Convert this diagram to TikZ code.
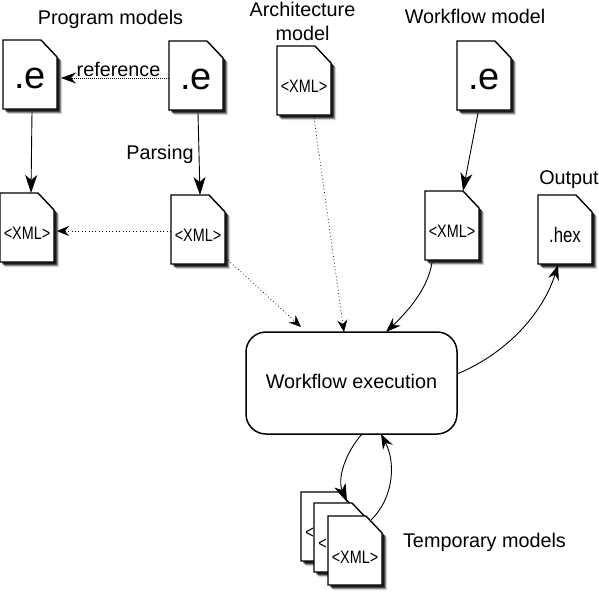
\documentclass[tikz,border=0pt]{standalone}
\usepackage{fontspec}
\setmainfont{Liberation Sans}
\newfontfamily\narrowfont[FakeStretch=0.8]{Liberation Sans}
\usetikzlibrary{arrows.meta}
\tikzset{
  lab/.style={font=\fontsize{19.8}{21}\selectfont,inner sep=0pt},
  bigE/.style={font=\fontsize{38}{38}\selectfont},
  xmlt/.style={font=\narrowfont\fontsize{18}{19}\selectfont},
  hext/.style={font=\narrowfont\fontsize{21}{22}\selectfont},
  filebody/.style={draw=black,line width=1.4pt,fill=white,line join=miter},
  big/.style={-{Stealth[length=18pt,width=12pt,inset=5pt]},line width=.9pt},
  mid/.style={-{Stealth[length=15pt,width=11pt,inset=5pt]},line width=.9pt},
  dots/.style={-{Stealth[length=12pt,width=10pt,inset=4pt]},line width=.7pt,dash pattern=on .8pt off 2.6pt},
  dense/.style={-{Stealth[length=15pt,width=11pt,inset=5pt]},line width=.8pt,dash pattern=on 1pt off 1pt},
}
% name, left, top, text style, text, text dx, text dy
\newcommand{\filedoc}[7]{%
  \foreach \o/\a in {5/.15,4.2/.25,3.4/.45,2.4/.7}{
    \fill[black,opacity=\a] (#2+\o,#3+\o) -- (#2+38+\o,#3+\o) -- (#2+54+\o,#3+17+\o) -- (#2+54+\o,#3+69+\o) -- (#2+\o,#3+69+\o) -- cycle;
  }
  \draw[filebody] (#2,#3) -- (#2+38,#3) -- (#2+54,#3+17) -- (#2+54,#3+69) -- (#2,#3+69) -- cycle;
  \node[minimum width=54pt,minimum height=69pt,inner sep=0pt,outer sep=0pt] (#1) at (#2+27,#3+34.5) {};
  \node[inner sep=0pt,#4] (#1t) at (#2+27+#6,#3+34.5+#7) {#5};
}
\begin{document}
\begin{tikzpicture}[x=1pt,y=-1pt]
\useasboundingbox (0,0) rectangle (599,592);
\filedoc{ea}{3}{40}{bigE}{.e}{0}{3.5}
\filedoc{eb}{169}{41}{bigE}{.e}{0}{3.5}
\filedoc{arch}{277}{46}{xmlt}{<XML>}{0}{5.5}
\filedoc{wf}{457}{41}{bigE}{.e}{0}{3.5}
\filedoc{xa}{0}{193}{xmlt}{<XML>}{0}{6}
\filedoc{xb}{171}{195}{xmlt}{<XML>}{0}{6}
\filedoc{xw}{425}{191}{xmlt}{<XML>}{0}{6}
\filedoc{hex}{538}{195}{hext}{.hex}{0}{5}
\filedoc{t1}{301}{492}{xmlt}{<}{-18.5}{6.5}
\filedoc{t2}{314}{503}{xmlt}{<}{-18.5}{6.5}
\filedoc{t3}{328}{516}{xmlt}{<XML>}{0}{6.5}
\node[draw=black,line width=1.5pt,fill=white,rounded corners=20pt,minimum width=211pt,minimum height=102pt,inner sep=0pt,outer sep=0pt,lab] (wfx) at (351.5,383) {};
\node[lab] (lwx) at (351.5,381) {Workflow execution};
\node[lab] (lpm) at (110.5,19.5) {Program models};
\node[lab,align=center] (larch) at (302.5,21.5) {Architecture\\[3.5pt]model};
\node[lab] (lwf) at (475,16) {Workflow model};
\node[lab] (lout) at (569,179.5) {Output};
\node[lab] (lpar) at (160,154.5) {Parsing};
\node[lab] (lref) at (118.5,69.5) {reference};
\node[lab] (ltmp) at (484.5,542) {Temporary models};
\draw[big] ([xshift=2pt,yshift=-3pt]ea.south) -- ([xshift=4pt]xa.north);
\draw[big] ([xshift=2pt,yshift=-3pt]eb.south) -- ([xshift=2pt]xb.north);
\draw[big] ([xshift=-6pt,yshift=-3pt]wf.south) -- ([xshift=11pt]xw.north);
\draw[dense] ([yshift=-2.5pt]eb.west) -- ([xshift=4pt,yshift=-3.5pt]ea.east);
\draw[dots] ([yshift=-1.5pt]xb.west) -- ([xshift=3pt,yshift=-3.5pt]xa.east);
\draw[dots] ([xshift=3pt,yshift=4pt]xb.south east) -- ([xshift=55pt,yshift=5pt]wfx.north west);
\draw[dots] ([xshift=10pt,yshift=-3pt]arch.south) -- ([xshift=98pt]wfx.north west);
\draw[mid] ([xshift=-20pt,yshift=-3pt]xw.south) .. controls (427,290) and (408,311) .. ([xshift=140pt]wfx.north west);
\draw[mid] (wfx.east |- 0,374) .. controls (510,352) and (544,310) .. ([xshift=-7pt,yshift=-1pt]hex.south);
\draw[big] ([xshift=116pt]wfx.south west) .. controls (346,452) and (337,478) .. ([xshift=-8pt,yshift=-10pt]t1.north east);
\draw[mid] ([xshift=-11pt,yshift=-4pt]t3.north east) .. controls (392,500) and (397,465) .. ([xshift=135pt]wfx.south west);
\end{tikzpicture}
\end{document}
